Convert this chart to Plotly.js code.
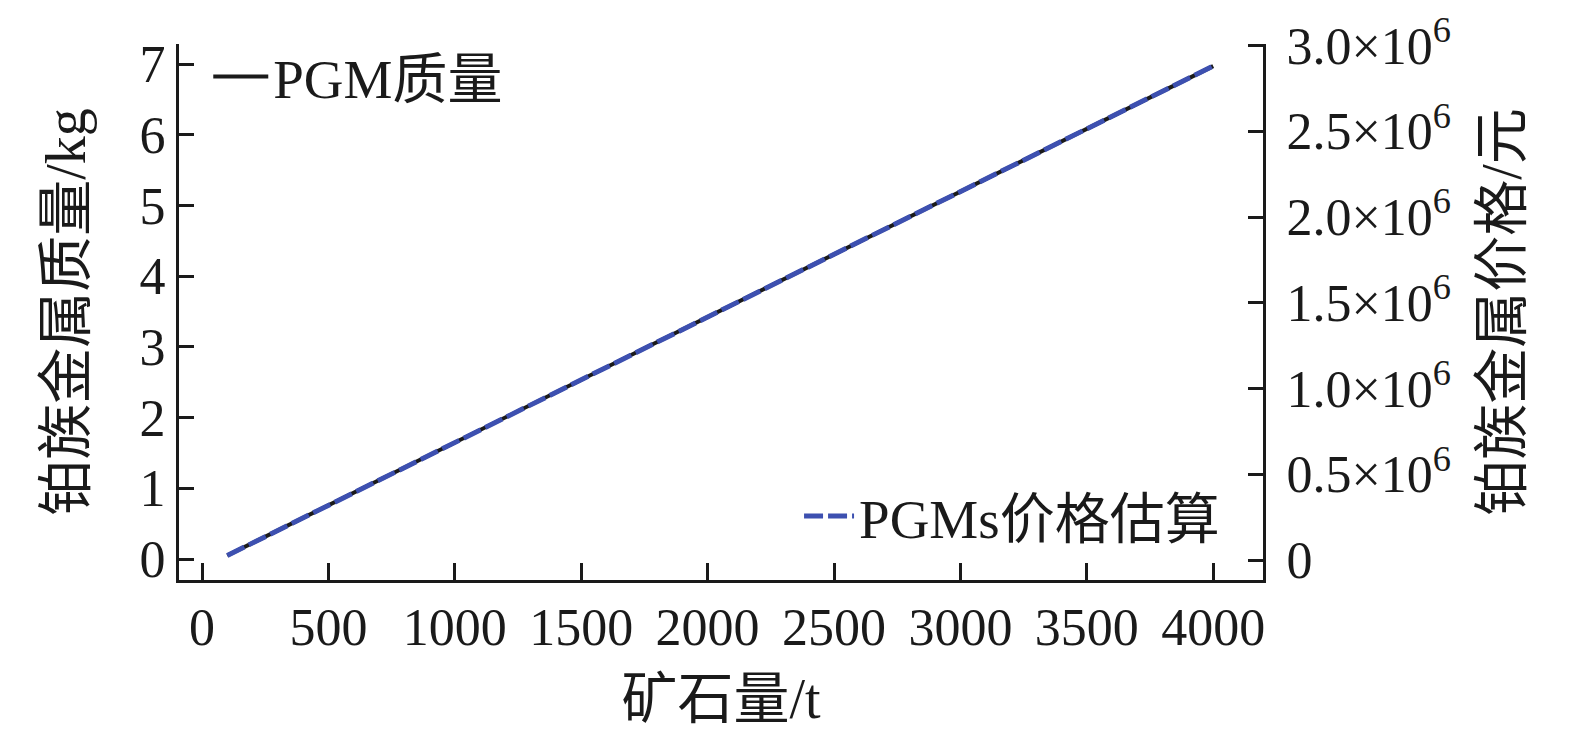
<!DOCTYPE html>
<html>
<head>
<meta charset="utf-8">
<script src="https://cdn.plot.ly/plotly-3.0.1.min.js"></script>
<style>
  html, body { margin: 0; padding: 0; background: #fff; }
  #chart { width: 1575px; height: 740px; }
</style>
</head>
<body>
<div id="chart"></div>
<script>
// Data
const oreTonnes = [100, 500, 1000, 1500, 2000, 2500, 3000, 3500, 4000];
const pgmMassKg = [0.05, 0.76, 1.65, 2.53, 3.42, 4.31, 5.19, 6.08, 6.97];
const pgmPriceYuan = [26000, 319000, 686000, 1049000, 1416000, 1783000, 2146000, 2513000, 2880000];

const xTickVals = [0, 500, 1000, 1500, 2000, 2500, 3000, 3500, 4000];
const yLeftTickVals = [0, 1, 2, 3, 4, 5, 6, 7];
const yRightTickVals = [0, 500000, 1000000, 1500000, 2000000, 2500000, 3000000];
const yRightTickText = ['0', '0.5×10<sup>6</sup>', '1.0×10<sup>6</sup>', '1.5×10<sup>6</sup>',
                        '2.0×10<sup>6</sup>', '2.5×10<sup>6</sup>', '3.0×10<sup>6</sup>'];

const massName = 'PGM质量';
const priceName = 'PGMs价格估算';
const xTitle = '矿石量/t';
const yLeftTitle = '铂族金属质量/kg';
const yRightTitle = '铂族金属价格/元';

const FONT = '"Liberation Serif", "Times New Roman", "Noto Sans CJK SC", serif';
const INK = '#1a1a1a';
const TICK_SIZE = 52;
const LEGEND_SIZE = 55;
const TITLE_SIZE = 56;

const traces = [
  {
    x: oreTonnes, y: pgmMassKg, name: massName, type: 'scatter', mode: 'lines',
    line: { color: '#1a1a1a', width: 4 }, yaxis: 'y', legend: 'legend'
  },
  {
    x: oreTonnes, y: pgmPriceYuan, name: priceName, type: 'scatter', mode: 'lines',
    line: { color: '#3d50b0', width: 5, dash: '19px,5px' }, yaxis: 'y2', legend: 'legend2'
  }
];

const axisCommon = {
  showgrid: false, zeroline: false, showline: true, linecolor: INK, linewidth: 3,
  ticks: 'inside', tickwidth: 3, tickcolor: INK,
  tickfont: { family: FONT, size: TICK_SIZE, color: INK },
  mirror: false
};

const layout = {
  width: 1575, height: 740,
  paper_bgcolor: '#fff', plot_bgcolor: '#fff',
  margin: { l: 179, r: 312, t: 44, b: 160, pad: 0 },
  showlegend: true,
  font: { family: FONT, color: INK },
  xaxis: Object.assign({}, axisCommon, {
    range: [-91, 4197], tickvals: xTickVals, ticklen: 17,
    title: { text: xTitle, font: { family: FONT, size: TITLE_SIZE, color: INK }, standoff: 24 }
  }),
  yaxis: Object.assign({}, axisCommon, {
    range: [-0.297, 7.283], tickvals: yLeftTickVals, ticklen: 15,
    title: { text: yLeftTitle, font: { family: FONT, size: TITLE_SIZE, color: INK }, standoff: 36 }
  }),
  yaxis2: Object.assign({}, axisCommon, {
    overlaying: 'y', side: 'right', ticklabelstandoff: 10,
    range: [-116600, 3008700], tickvals: yRightTickVals, ticktext: yRightTickText, ticklen: 15,
    title: { text: yRightTitle, font: { family: FONT, size: TITLE_SIZE, color: INK }, standoff: 32 }
  }),
  legend: {
    x: 0.027, y: 1.018, xanchor: 'left', yanchor: 'top', bgcolor: 'rgba(0,0,0,0)',
    font: { family: FONT, size: LEGEND_SIZE, color: INK }, itemwidth: 55
  },
  legend2: {
    x: 0.572, y: 0.198, xanchor: 'left', yanchor: 'top', bgcolor: 'rgba(0,0,0,0)',
    font: { family: FONT, size: LEGEND_SIZE, color: INK }, itemwidth: 50
  }
};

Plotly.newPlot('chart', traces, layout, { displayModeBar: false, staticPlot: true });
</script>
</body>
</html>
